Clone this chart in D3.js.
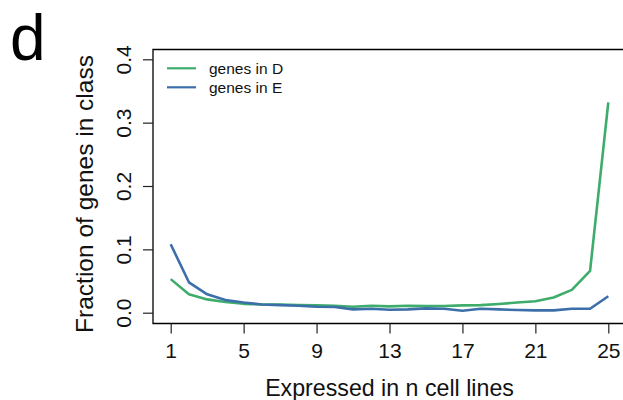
<!DOCTYPE html>
<html>
<head>
<meta charset="utf-8">
<script src="https://cdn.jsdelivr.net/npm/d3@7"></script>
<style>
  html, body { margin: 0; padding: 0; background: #fff; }
  svg { display: block; font-family: "Liberation Sans", Arial, Helvetica, sans-serif; }
</style>
</head>
<body>
<svg id="chart" width="623" height="400"></svg>
<script>
// === DATA ===
const nLines = d3.range(1, 26)
const genesD = [0.053, 0.029, 0.021, 0.017, 0.014, 0.013, 0.013, 0.012, 0.0116, 0.011,
    0.0095, 0.011, 0.010, 0.011, 0.0105, 0.0105, 0.0116, 0.012, 0.0137, 0.016,
    0.018, 0.024, 0.036, 0.066, 0.332]
const genesE = [0.108, 0.048, 0.029, 0.020, 0.016, 0.013, 0.012, 0.011, 0.0095, 0.009,
    0.0053, 0.0063, 0.0047, 0.0053, 0.0068, 0.0063, 0.0032, 0.0063, 0.0053, 0.0042,
    0.0037, 0.0037, 0.0063, 0.0063, 0.026]
const xTicks = [1, 5, 9, 13, 17, 21, 25]
const yTicks = [0, 0.1, 0.2, 0.3, 0.4]
const series = [
    { name: 'genes in D', values: genesD, color: '#3eac6b' },
    { name: 'genes in E', values: genesE, color: '#3c6fa9' }
]

// === LAYOUT ===
const svg = d3.select('#chart')
const box = { left: 153, top: 49.5, right: 640, bottom: 323.5 }

const x = d3.scaleLinear().domain([1, 25]).range([170.7, 608.3])
const y = d3.scaleLinear().domain([0, 0.4]).range([312.7, 59.3])

// plot frame (right edge runs off the canvas)
svg.append('path')
    .attr('d', `M${box.right},${box.top} H${box.left} V${box.bottom} H${box.right}`)
    .attr('fill', 'none')
    .attr('stroke', '#000')
    .attr('stroke-width', 1.3)

// x axis
const xAxis = svg.append('g')
    .attr('transform', `translate(0,${box.bottom})`)
    .call(d3.axisBottom(x).tickValues(xTicks).tickSize(10).tickPadding(9.5).tickFormat(d3.format('d')))
xAxis.select('.domain').remove()
xAxis.selectAll('line').attr('stroke', '#222').attr('stroke-width', 1.2)
xAxis.selectAll('text').attr('font-size', 21).attr('fill', '#111').attr('font-family', null)

// y axis (rotated labels, R style)
const yAxis = svg.append('g')
    .attr('transform', `translate(${box.left},0)`)
    .call(d3.axisLeft(y).tickValues(yTicks).tickSize(10).tickFormat(d3.format('.1f')))
yAxis.select('.domain').remove()
yAxis.selectAll('line').attr('stroke', '#222').attr('stroke-width', 1.2)
yAxis.selectAll('text')
    .attr('font-size', 21).attr('fill', '#111').attr('font-family', null)
    .attr('x', null).attr('dy', null)
    .attr('text-anchor', 'middle')
    .attr('transform', 'translate(-22.5,0) rotate(-90)')

// axis titles
svg.append('text')
    .attr('x', (x(1) + x(25)) / 2).attr('y', 396)
    .attr('text-anchor', 'middle').attr('font-size', 23.2).attr('fill', '#111')
    .text('Expressed in n cell lines')

svg.append('text')
    .attr('transform', `translate(93,194) rotate(-90)`)
    .attr('text-anchor', 'middle').attr('font-size', 24.5).attr('fill', '#111')
    .text('Fraction of genes in class')

// panel letter
svg.append('text')
    .attr('x', 10).attr('y', 60)
    .attr('font-size', 64).attr('fill', '#000')
    .text('d')

// lines
const line = d3.line()
    .x((d, i) => x(nLines[i]))
    .y(d => y(d))

svg.selectAll('.series')
    .data(series)
    .join('path')
    .attr('class', 'series')
    .attr('d', d => line(d.values))
    .attr('fill', 'none')
    .attr('stroke', d => d.color)
    .attr('stroke-width', 2.6)
    .attr('stroke-linejoin', 'round')

// legend
const legend = svg.append('g').attr('transform', 'translate(167,68.3)')
const item = legend.selectAll('g')
    .data(series)
    .join('g')
    .attr('transform', (d, i) => `translate(0,${i * 19})`)
item.append('line')
    .attr('x1', 0).attr('x2', 29)
    .attr('stroke', d => d.color).attr('stroke-width', 2.2)
item.append('text')
    .attr('x', 42).attr('dy', '0.36em')
    .attr('font-size', 15.5).attr('fill', '#111')
    .text(d => d.name)
</script>
</body>
</html>
